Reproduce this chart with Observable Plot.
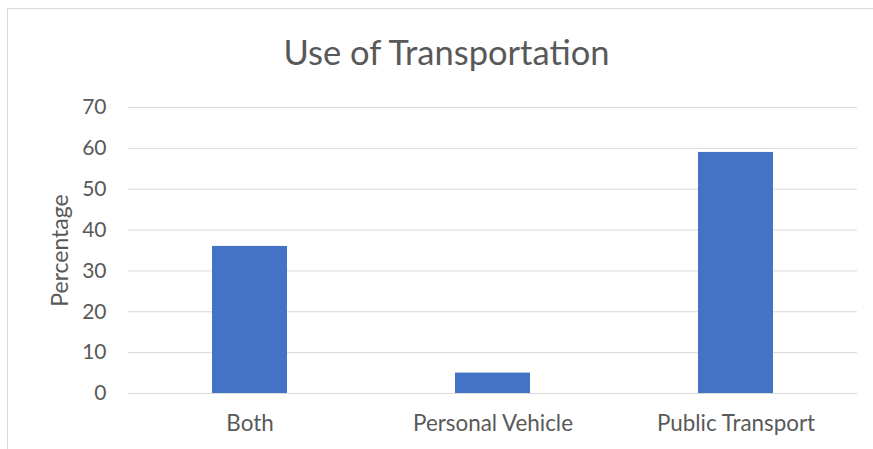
<!DOCTYPE html>
<html>
<head>
<meta charset="utf-8">
<script src="https://cdn.jsdelivr.net/npm/d3@7"></script>
<script src="https://cdn.jsdelivr.net/npm/@observablehq/plot@0.6"></script>
<style>
  html, body { margin: 0; padding: 0; background: #fff; }
  #wrap { position: relative; width: 873px; height: 449px; overflow: hidden; font-family: Lato, "Open Sans", sans-serif; }
  #frame { position: absolute; left: 7px; top: 8px; width: 900px; height: 500px; border: 1px solid #d9d9d9; box-sizing: border-box; }
  #title { position: absolute; left: 0; width: 893px; top: 32px; text-align center; text-align: center; font-size: 34.5px; color: #595959; line-height: 40px; }
  #chart { position: absolute; left: 0; top: 0; }
</style>
</head>
<body>
<div id="wrap">
  <div id="frame"></div>
  <div id="title">Use of Transportation</div>
  <div id="chart"></div>
</div>
<script>
const categories = ["Both", "Personal Vehicle", "Public Transport"];
const values = [36, 5, 59];
const yTicks = [0, 10, 20, 30, 40, 50, 60, 70];
const titleText = "Use of Transportation";
const yLabel = "Percentage";

const data = categories.map((c, i) => ({category: c, value: values[i]}));

const plot = Plot.plot({
  width: 873,
  height: 449,
  marginTop: 107,
  marginBottom: 56,
  marginLeft: 128,
  marginRight: 16,
  style: {fontFamily: "Lato, 'Open Sans', sans-serif", fontSize: "21px", color: "#595959", background: "transparent", overflow: "visible"},
  x: {domain: categories, paddingInner: 0.69, paddingOuter: 0.345, label: null},
  y: {domain: [0, 70], ticks: yTicks, label: null},
  marks: [
    Plot.gridY(yTicks, {stroke: "#d9d9d9", strokeOpacity: 1, strokeWidth: 1}),
    Plot.barY(data, {x: "category", y: "value", fill: "#4472c4"}),
    Plot.axisY({ticks: yTicks, tickSize: 0, tickPadding: 22, label: null, fill: "#595959", fontSize: 21}),
    Plot.axisX({tickSize: 0, tickPadding: 22, label: null, fill: "#595959", fontSize: 22.4}),
    Plot.text([yLabel], {frameAnchor: "left", dx: -68, rotate: -90, textAnchor: "middle", text: d => d, fill: "#595959", fontSize: 23})
  ]
});
document.getElementById("chart").appendChild(plot);
document.getElementById("title").textContent = titleText;
</script>
</body>
</html>
